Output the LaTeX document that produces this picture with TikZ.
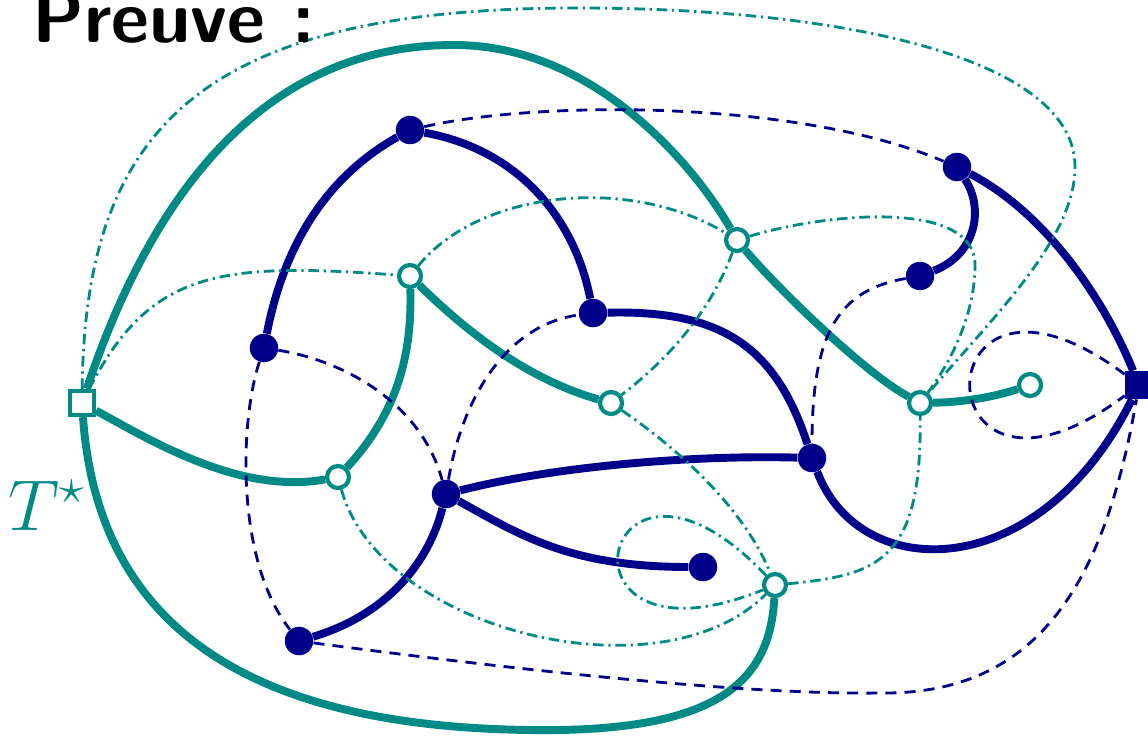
\RequirePackage{fix-cm}
\documentclass[tikz,border=0pt]{standalone}
\usetikzlibrary{backgrounds}
\definecolor{navyc}{RGB}{0,0,139}
\definecolor{tealc}{RGB}{0,138,134}
\tikzset{
 pv/.style={circle, fill=navyc, inner sep=0pt, minimum size=0.57cm},
 proot/.style={rectangle, fill=navyc, inner sep=0pt, minimum size=0.56cm},
 dv/.style={circle, draw=tealc, fill=white, line width=2.4pt, inner sep=0pt, minimum size=0.44cm},
 droot/.style={rectangle, draw=tealc, fill=white, line width=2.4pt, inner sep=0pt, minimum size=0.48cm},
 ptree/.style={draw=navyc, line width=4.5pt},
 dtree/.style={draw=tealc, line width=4.5pt},
 pco/.style={draw=navyc, line width=1.6pt, dash pattern=on 6.3pt off 4.6pt},
 dco/.style={draw=tealc, line width=1.6pt, dash pattern=on 6pt off 2.7pt on 1.3pt off 2.7pt},
}
\begin{document}
\begin{tikzpicture}[x=0.02cm,y=-0.02cm]
\useasboundingbox (0,0) rectangle (1148,737);
% primal vertices
\node[pv] (A) at (410,130) {};
\node[pv] (B) at (957,167) {};
\node[pv] (C) at (920,276) {};
\node[pv] (D) at (593,313) {};
\node[pv] (E) at (264,348) {};
\node[pv] (F) at (812,458) {};
\node[pv] (G) at (446,494) {};
\node[pv] (H) at (703,567) {};
\node[pv] (I) at (299,641) {};
\node[proot] (R) at (1139,385) {};
% dual vertices
\node[droot] (S) at (82,403) {};
\node[dv] (a) at (410,276) {};
\node[dv] (b) at (737,240) {};
\node[dv] (c) at (611,403) {};
\node[dv] (d) at (920,403) {};
\node[dv] (e) at (1030,385) {};
\node[dv] (f) at (338,477) {};
\node[dv] (g) at (775,585) {};
% labels
\node[anchor=base west, inner sep=0pt, font=\sffamily\bfseries\fontsize{42}{44}\selectfont] (title) at (32,42) {Preuve :};
\node[anchor=base west, inner sep=0pt, text=tealc, font=\fontsize{41}{44}\selectfont] (tstar) at (8,530) {$T^\star$};
\begin{pgfonlayer}{background}
% primal tree
\draw[ptree] (E) .. controls (285,240) and (330,175) .. (A);
\draw[ptree] (A) .. controls (520,150) and (575,220) .. (D);
\draw[ptree] (D) .. controls (720,310) and (775,345) .. (F);
\draw[ptree] (G) .. controls (560,465) and (700,455) .. (F);
\draw[ptree] (G) .. controls (520,535) and (570,567) .. (H);
\draw[ptree] (G) .. controls (428,565) and (385,615) .. (I);
\draw[ptree] (B) .. controls (985,210) and (975,255) .. (C);
\draw[ptree] (B) .. controls (1040,210) and (1100,290) .. (R);
\draw[ptree] (F) .. controls (860,585) and (1040,585) .. (R);
% dual tree
\draw[dtree] (S) .. controls (150,200) and (260,45) .. (454,45) .. controls (600,45) and (700,175) .. (b);
\draw[dtree] (b) .. controls (770,280) and (860,370) .. (d);
\draw[dtree] (d) .. controls (970,402) and (1000,395) .. (e);
\draw[dtree] (a) .. controls (470,335) and (530,380) .. (c);
\draw[dtree] (a) .. controls (412,350) and (400,410) .. (f);
\draw[dtree] (S) .. controls (150,440) and (240,495) .. (f);
\draw[dtree] (S) .. controls (100,660) and (300,733) .. (560,730) .. controls (720,727) and (770,680) .. (g);
% primal co-tree
\draw[pco] (A) .. controls (540,100) and (800,100) .. (B);
\draw[pco] (E) .. controls (340,360) and (420,400) .. (G);
\draw[pco] (E) .. controls (240,420) and (235,560) .. (I);
\draw[pco] (G) .. controls (462,400) and (505,325) .. (D);
\draw[pco] (C) .. controls (840,290) and (812,330) .. (F);
\draw[pco] (I) .. controls (480,665) and (730,695) .. (880,693) .. controls (1040,695) and (1105,580) .. (R);
\draw[pco] (R) .. controls (918,220) and (918,550) .. (R);
% dual co-tree
\draw[dco] (S) .. controls (150,270) and (220,262) .. (a);
\draw[dco] (S) .. controls (85,130) and (200,8) .. (577,8) .. controls (850,8) and (1075,60) .. (1075,167) .. controls (1075,240) and (990,320) .. (d);
\draw[dco] (a) .. controls (480,190) and (630,175) .. (b);
\draw[dco] (b) .. controls (715,300) and (680,350) .. (c);
\draw[dco] (b) .. controls (830,212) and (975,200) .. (975,265) .. controls (975,320) and (945,370) .. (d);
\draw[dco] (c) .. controls (680,450) and (745,510) .. (g);
\draw[dco] (f) .. controls (380,630) and (660,700) .. (g);
\draw[dco] (g) .. controls (880,575) and (922,560) .. (d);
\draw[dco] (g) .. controls (600,400) and (540,680) .. (g);
\end{pgfonlayer}
\end{tikzpicture}
\end{document}
